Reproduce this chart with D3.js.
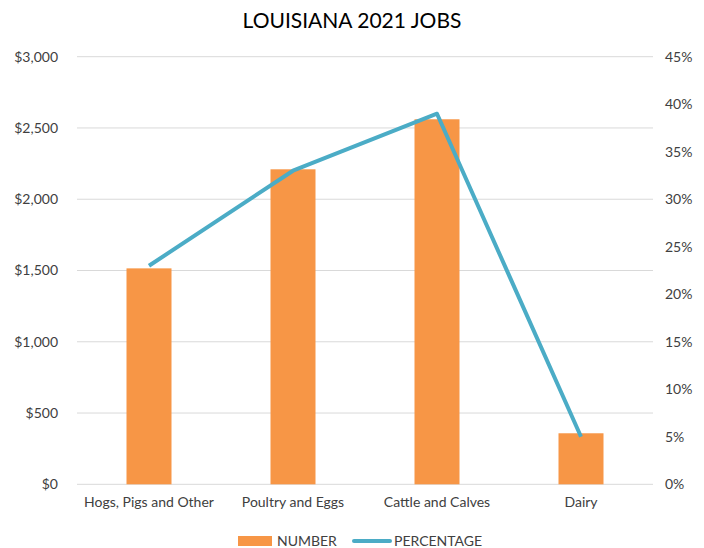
<!DOCTYPE html>
<html>
<head>
<meta charset="utf-8">
<script src="https://cdn.jsdelivr.net/npm/d3@7"></script>
<style>
  html, body { margin: 0; padding: 0; background: #fff; }
  svg { display: block; font-family: "Lato", "Open Sans", sans-serif; }
</style>
</head>
<body>
<svg id="chart" width="704" height="548"></svg>
<script>
// Louisiana 2021 jobs by livestock sector
const categories = ["Hogs, Pigs and Other", "Poultry and Eggs", "Cattle and Calves", "Dairy"];
const numberValues = [1515, 2210, 2561, 358];
const percentValues = [23, 33, 39, 5];
const leftTicks = [0, 500, 1000, 1500, 2000, 2500, 3000];
const rightTicks = [0, 5, 10, 15, 20, 25, 30, 35, 40, 45];

const svg = d3.select("#chart");
const margin = { left: 77, right: 51, top: 56.7, bottom: 63.7 };
const W = 704, H = 548;

const x = d3.scaleBand().domain(categories).range([margin.left, W - margin.right]).paddingInner(0).paddingOuter(0);
const yL = d3.scaleLinear().domain([0, 3000]).range([H - margin.bottom, margin.top]);
const yR = d3.scaleLinear().domain([0, 45]).range([H - margin.bottom, margin.top]);

// Title
svg.append("text")
  .attr("x", 352).attr("y", 28)
  .attr("text-anchor", "middle")
  .attr("font-size", 21)
  .attr("fill", "#000")
  .text("LOUISIANA 2021 JOBS");

// Gridlines
svg.append("g").selectAll("line").data(leftTicks).join("line")
  .attr("x1", margin.left).attr("x2", W - margin.right)
  .attr("y1", d => yL(d)).attr("y2", d => yL(d))
  .attr("stroke", "#d9d9d9").attr("stroke-width", 1);

// Left axis
const leftAxis = svg.append("g")
  .attr("transform", `translate(${margin.left},0)`)
  .call(d3.axisLeft(yL).tickValues(leftTicks).tickSize(0).tickPadding(19)
    .tickFormat(d => "$" + d3.format(",")(d)));
leftAxis.select(".domain").remove();
leftAxis.selectAll("text").attr("font-size", 14).attr("fill", "#404040").attr("font-family", "Lato, 'Open Sans', sans-serif");

// Right axis
const rightAxis = svg.append("g")
  .attr("transform", `translate(${W - margin.right},0)`)
  .call(d3.axisRight(yR).tickValues(rightTicks).tickSize(0).tickPadding(12)
    .tickFormat(d => d + "%"));
rightAxis.select(".domain").remove();
rightAxis.selectAll("text").attr("font-size", 14).attr("fill", "#404040").attr("font-family", "Lato, 'Open Sans', sans-serif");

// Category axis
const bottomAxis = svg.append("g")
  .attr("transform", `translate(0,${yL(0)})`)
  .call(d3.axisBottom(x).tickSize(0).tickPadding(13));
bottomAxis.select(".domain").remove();
bottomAxis.selectAll("text").attr("font-size", 14).attr("fill", "#404040").attr("font-family", "Lato, 'Open Sans', sans-serif");

// Bars
const barW = x.bandwidth() * 0.3125;
svg.append("g").selectAll("rect").data(categories).join("rect")
  .attr("x", d => x(d) + x.bandwidth() / 2 - barW / 2)
  .attr("width", barW)
  .attr("y", (d, i) => yL(numberValues[i]))
  .attr("height", (d, i) => yL(0) - yL(numberValues[i]))
  .attr("fill", "#f79646");

// Percentage line
const line = d3.line()
  .x((d, i) => x(categories[i]) + x.bandwidth() / 2)
  .y(d => yR(d));
svg.append("path")
  .datum(percentValues)
  .attr("d", line)
  .attr("fill", "none")
  .attr("stroke", "#4bacc6")
  .attr("stroke-width", 4)
  .attr("stroke-linejoin", "round");

// Legend
const legend = svg.append("g").attr("font-size", 14).attr("fill", "#404040");
legend.append("rect").attr("x", 238).attr("y", 536).attr("width", 34).attr("height", 10).attr("fill", "#f79646");
legend.append("text").attr("x", 277).attr("y", 546).text("NUMBER");
legend.append("line").attr("x1", 354).attr("x2", 390).attr("y1", 541).attr("y2", 541)
  .attr("stroke", "#4bacc6").attr("stroke-width", 4).attr("stroke-linecap", "round");
legend.append("text").attr("x", 394).attr("y", 546).text("PERCENTAGE");
</script>
</body>
</html>
